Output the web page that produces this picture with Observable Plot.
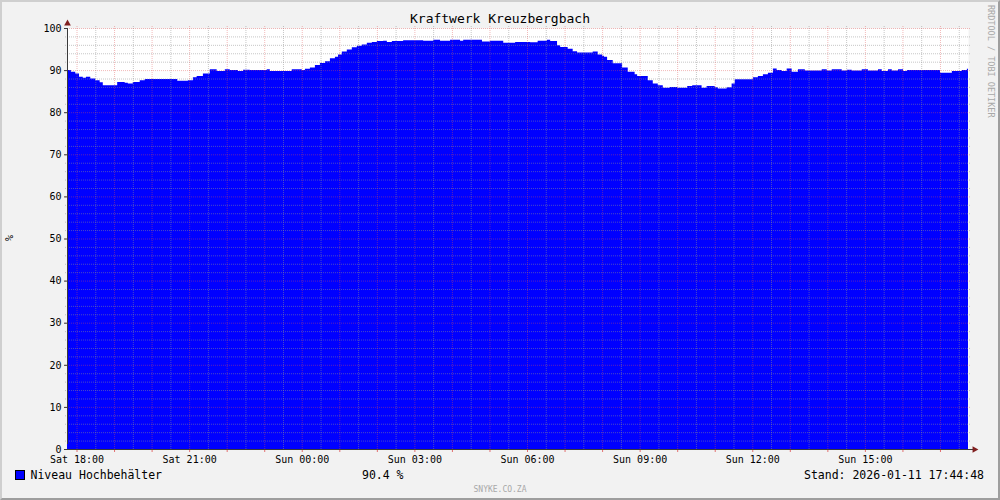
<!DOCTYPE html>
<html>
<head>
<meta charset="utf-8">
<script src="https://cdn.jsdelivr.net/npm/d3@7"></script>
<script src="https://cdn.jsdelivr.net/npm/@observablehq/plot@0.6"></script>
<style>
html, body { margin: 0; padding: 0; background: #F2F2F2; }
#chart { position: relative; width: 1000px; height: 500px; background: #F2F2F2; overflow: hidden; }
#chart > svg { position: absolute; left: 0; top: 0; }
#bord { position: absolute; left: 0; top: 0; width: 1000px; height: 500px; box-sizing: border-box;
  border-style: solid; border-width: 2px; border-color: #CFCFCF #9E9E9E #9E9E9E #CFCFCF; pointer-events: none; }
</style>
</head>
<body>
<div id="chart"></div>
<script>
// ---- text ----
const title = "Kraftwerk Kreuzbergbach";
const yLabel = "%";
const seriesName = "Niveau Hochbehälter";
const lastValue = "90.4 %";
const stamp = "Stand: 2026-01-11 17:44:48";
const watermark = "RRDTOOL / TOBI OETIKER";
const credit = "SNYKE.CO.ZA";

// ---- time window (24 h ending at the stamp) ----
const windowStart = "2026-01-10T17:44:48";
const windowEnd = "2026-01-11T17:44:48";

// ---- series: water level of the reservoir, % ----
const times = [
  "2026-01-10T17:44:48","2026-01-10T17:51","2026-01-10T17:58","2026-01-10T18:04","2026-01-10T18:10",
  "2026-01-10T18:15","2026-01-10T18:22","2026-01-10T18:30","2026-01-10T18:37","2026-01-10T18:42",
  "2026-01-10T19:05","2026-01-10T19:17","2026-01-10T19:22","2026-01-10T19:30","2026-01-10T19:41",
  "2026-01-10T19:49","2026-01-10T20:41","2026-01-10T20:58","2026-01-10T21:06","2026-01-10T21:12",
  "2026-01-10T21:22","2026-01-10T21:33","2026-01-10T21:44","2026-01-10T21:57","2026-01-10T22:05",
  "2026-01-10T22:18","2026-01-10T22:26","2026-01-10T22:37","2026-01-10T23:04","2026-01-10T23:09",
  "2026-01-10T23:44",
  "2026-01-11T00:00","2026-01-11T00:05","2026-01-11T00:13","2026-01-11T00:21","2026-01-11T00:29",
  "2026-01-11T00:37","2026-01-11T00:45","2026-01-11T00:53","2026-01-11T00:58","2026-01-11T01:04",
  "2026-01-11T01:12","2026-01-11T01:20","2026-01-11T01:28","2026-01-11T01:36","2026-01-11T01:44",
  "2026-01-11T01:52","2026-01-11T02:00","2026-01-11T02:10","2026-01-11T02:16","2026-01-11T02:24",
  "2026-01-11T02:42","2026-01-11T03:14","2026-01-11T03:30","2026-01-11T03:41","2026-01-11T03:57",
  "2026-01-11T04:13","2026-01-11T04:18","2026-01-11T04:48","2026-01-11T05:01","2026-01-11T05:22",
  "2026-01-11T05:41","2026-01-11T06:05","2026-01-11T06:17","2026-01-11T06:32","2026-01-11T06:37",
  "2026-01-11T06:48","2026-01-11T06:53","2026-01-11T07:05","2026-01-11T07:13","2026-01-11T07:20",
  "2026-01-11T07:45","2026-01-11T07:53","2026-01-11T08:00","2026-01-11T08:03","2026-01-11T08:08",
  "2026-01-11T08:17","2026-01-11T08:32","2026-01-11T08:41","2026-01-11T08:52","2026-01-11T08:56",
  "2026-01-11T09:13","2026-01-11T09:21","2026-01-11T09:29","2026-01-11T09:37","2026-01-11T09:48",
  "2026-01-11T10:00","2026-01-11T10:16","2026-01-11T10:24","2026-01-11T10:39","2026-01-11T10:47",
  "2026-01-11T11:00","2026-01-11T11:05","2026-01-11T11:19","2026-01-11T11:27","2026-01-11T11:32",
  "2026-01-11T12:01","2026-01-11T12:09","2026-01-11T12:17","2026-01-11T12:25","2026-01-11T12:33",
  "2026-01-11T12:39","2026-01-11T12:47","2026-01-11T12:55","2026-01-11T13:03","2026-01-11T13:13",
  "2026-01-11T13:24","2026-01-11T13:51","2026-01-11T13:59","2026-01-11T14:07","2026-01-11T14:23",
  "2026-01-11T14:31","2026-01-11T14:39","2026-01-11T14:55","2026-01-11T15:05","2026-01-11T15:21",
  "2026-01-11T15:27","2026-01-11T15:37","2026-01-11T15:43","2026-01-11T15:53","2026-01-11T16:01",
  "2026-01-11T16:07","2026-01-11T17:00","2026-01-11T17:19","2026-01-11T17:35","2026-01-11T17:43",
  "2026-01-11T17:44:48"
];
const levels = [
  90.0, 89.6, 89.2, 88.4, 88.2,
  88.4, 88.0, 87.6, 87.1, 86.4,
  87.2, 87.0, 86.8, 87.2, 87.6,
  87.9, 87.5, 87.6, 88.3, 88.6,
  89.2, 90.2, 89.8, 90.2, 90.0,
  89.8, 90.1, 90.0, 90.2, 89.8,
  90.2,
  90.0, 90.3, 90.6, 91.2, 91.7,
  92.1, 92.8, 93.2, 93.7, 94.4,
  94.9, 95.4, 95.8, 96.1, 96.5,
  96.7, 96.9, 97.0, 96.7, 96.9,
  97.1, 97.0, 97.2, 97.0, 97.2,
  97.0, 97.2, 96.8, 97.0, 96.5,
  96.7, 96.6, 97.0, 97.2, 96.9,
  95.9, 95.5, 95.1, 94.5, 94.2,
  94.4, 93.7, 93.4, 93.2, 92.4,
  91.6, 90.6, 89.6, 89.0, 88.6,
  87.6, 86.8, 86.4, 85.8, 86.0,
  85.8, 86.2, 86.4, 85.8, 86.2,
  85.9, 85.6, 85.9, 86.8, 87.8,
  88.3, 88.6, 89.0, 89.4, 90.4,
  90.0, 89.8, 90.4, 89.6, 90.2,
  89.9, 90.2, 89.9, 90.2, 89.9,
  90.1, 89.9, 90.2, 89.9, 90.2,
  89.8, 90.2, 89.9, 90.2, 89.8,
  90.0, 89.4, 89.8, 90.0, 90.3,
  90.4
];

// ---- axis tick values ----
const yMajorTicks = [0, 10, 20, 30, 40, 50, 60, 70, 80, 90, 100];

// ---- colours (rrdtool defaults) ----
const areaColor = "#0000FF";
const canvasColor = "#FFFFFF";
const gridColor = "rgba(143,143,143,0.5)";
const mgridColor = "rgba(222,79,79,0.4)";
const axisColor = "#3A3A3A";
const arrowColor = "#801F1F";
const fontFamily = "'DejaVu Sans Mono', monospace";

const parse = s => new Date(s + "Z");
const data = times.map((s, i) => ({t: parse(s), v: levels[i]}));
const t0 = parse(windowStart), t1 = parse(windowEnd);
const hourTicks = d3.utcHour.range(t0, t1);
const halfHourTicks = d3.utcMinute.every(30).range(t0, t1).filter(d => d.getUTCMinutes() !== 0);
const labelTicks = d3.utcHour.every(3).range(t0, t1);
const yMinorTicks = d3.range(2, 100, 2).filter(v => v % 10 !== 0);

const plot = Plot.plot({
  width: 1000,
  height: 500,
  marginLeft: 67,
  marginRight: 32,
  marginTop: 28,
  marginBottom: 51,
  style: {background: "transparent", fontFamily, fontSize: "10px", color: "#000", overflow: "visible"},
  x: {type: "utc", domain: [t0, t1], label: null},
  y: {domain: [0, 100], label: null},
  marks: [
    Plot.frame({fill: canvasColor, stroke: null}),
    Plot.areaY(data, {x: "t", y: "v", fill: areaColor, curve: "step-after"}),
    Plot.ruleX(halfHourTicks, {stroke: gridColor, strokeDasharray: "1,1", insetTop: -2}),
    Plot.ruleY(yMinorTicks, {stroke: gridColor, strokeDasharray: "1,1", insetLeft: -2, insetRight: -3}),
    Plot.ruleX(hourTicks, {stroke: mgridColor, strokeDasharray: "1,1", insetTop: -2}),
    Plot.ruleY(yMajorTicks, {stroke: mgridColor, strokeDasharray: "1,1", insetLeft: -2, insetRight: -3}),
    Plot.axisX({ticks: hourTicks, tickSize: 3, tickFormat: () => "", stroke: "rgba(222,79,79,0.8)", label: null}),
    Plot.axisX({ticks: labelTicks, tickSize: 0, tickPadding: 6, tickFormat: d3.utcFormat("%a %H:%M"), fill: "#000", label: null}),
    Plot.axisY({ticks: yMajorTicks, tickSize: 3, tickPadding: 3, stroke: axisColor, fill: "#000", label: null}),
    Plot.ruleY([0], {stroke: axisColor, insetRight: -5}),
    Plot.ruleX([t0], {y1: 0, y2: 100, stroke: axisColor, insetTop: -5}),
    Plot.dot([{x: t0, y: 100}], {x: "x", y: "y", symbol: "triangle", r: 2.5, fill: arrowColor, stroke: null, dy: -5}),
    Plot.dot([{x: t1, y: 0}], {x: "x", y: "y", symbol: "triangle", r: 2.5, fill: arrowColor, stroke: null, dx: 6, rotate: 90})
  ]
});

const root = document.getElementById("chart");
root.appendChild(plot);

// ---- title, legend and side texts ----
const ns = "http://www.w3.org/2000/svg";
const ov = d3.select(root).append("svg")
  .attr("xmlns", ns).attr("width", 1000).attr("height", 500)
  .style("font-family", fontFamily).style("pointer-events", "none");

ov.append("text").attr("x", 500).attr("y", 23).attr("text-anchor", "middle")
  .attr("font-size", 13).attr("fill", "#000").text(title);
ov.append("text").attr("transform", "translate(13,238) rotate(-90)").attr("text-anchor", "middle")
  .attr("font-size", 10).attr("fill", "#000").text(yLabel);
ov.append("text").attr("transform", "translate(988,5) rotate(90)").attr("text-anchor", "start")
  .attr("font-size", 8.5).attr("fill", "#A8A8A8").text(watermark);
ov.append("rect").attr("x", 15.5).attr("y", 470.5).attr("width", 9).attr("height", 9)
  .attr("fill", areaColor).attr("stroke", "#000").attr("stroke-width", 1);
ov.append("text").attr("x", 30.5).attr("y", 479).attr("font-size", 11.5).attr("fill", "#000").text(seriesName);
ov.append("text").attr("x", 362).attr("y", 479).attr("font-size", 11.5).attr("fill", "#000").text(lastValue);
ov.append("text").attr("x", 984).attr("y", 479).attr("text-anchor", "end")
  .attr("font-size", 11.5).attr("fill", "#000").text(stamp);
ov.append("text").attr("x", 500).attr("y", 492).attr("text-anchor", "middle")
  .attr("font-size", 8).attr("fill", "#A8A8A8").text(credit);

d3.select(root).append("div").attr("id", "bord");
</script>
</body>
</html>
